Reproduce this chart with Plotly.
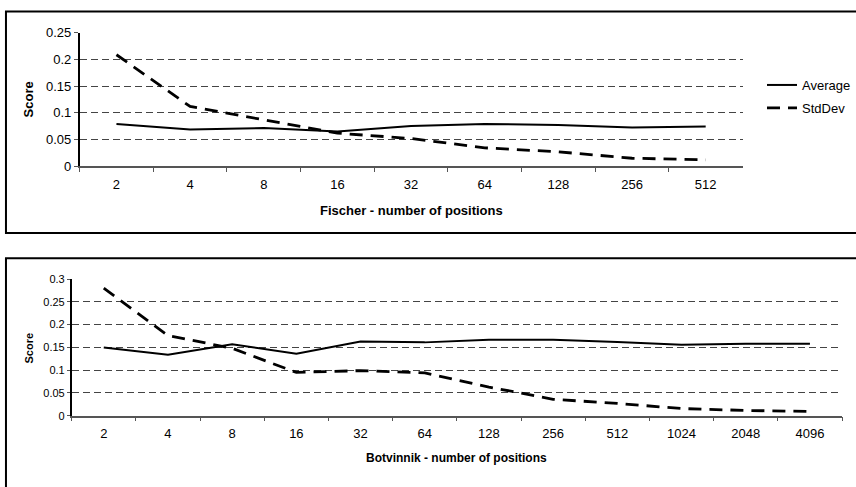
import plotly.graph_objects as go

# ---- data ----
fischer_positions = ["2", "4", "8", "16", "32", "64", "128", "256", "512"]
fischer_average = [0.079, 0.069, 0.0715, 0.065, 0.0755, 0.079, 0.0775, 0.0725, 0.0745]
fischer_stddev = [0.209, 0.112, 0.087, 0.062, 0.052, 0.0345, 0.027, 0.015, 0.012]

botvinnik_positions = ["2", "4", "8", "16", "32", "64", "128", "256", "512", "1024", "2048", "4096"]
botvinnik_average = [0.150, 0.134, 0.157, 0.136, 0.163, 0.161, 0.167, 0.167, 0.162, 0.156, 0.158, 0.158]
botvinnik_stddev = [0.280, 0.176, 0.148, 0.095, 0.099, 0.094, 0.063, 0.036, 0.027, 0.0157, 0.0115, 0.0094]

fischer_yticks = [0, 0.05, 0.1, 0.15, 0.2, 0.25]
fischer_ytick_labels = ["0", "0.05", "0.1", "0.15", "0.2", "0.25"]
botvinnik_yticks = [0, 0.05, 0.1, 0.15, 0.2, 0.25, 0.3]
botvinnik_ytick_labels = ["0", "0.05", "0.1", "0.15", "0.2", "0.25", "0.3"]

W, H = 856, 487
FONT = "Liberation Sans, Arial, sans-serif"


def px(x):
    return x / W


def py(y):
    return 1 - y / H


avg_line = dict(color="black", width=2)
std_line = dict(color="black", width=2.8, dash="13px,8px")

fig = go.Figure()

fig.add_trace(go.Scatter(x=fischer_positions, y=fischer_average, mode="lines", name="Average",
                         line=avg_line, xaxis="x", yaxis="y", legendgroup="a"))
fig.add_trace(go.Scatter(x=fischer_positions, y=fischer_stddev, mode="lines", name="StdDev",
                         line=std_line, xaxis="x", yaxis="y", legendgroup="b"))
fig.add_trace(go.Scatter(x=botvinnik_positions, y=botvinnik_average, mode="lines", name="Average",
                         line=avg_line, xaxis="x2", yaxis="y2", showlegend=False))
fig.add_trace(go.Scatter(x=botvinnik_positions, y=botvinnik_stddev, mode="lines", name="StdDev",
                         line=std_line, xaxis="x2", yaxis="y2", showlegend=False))

grid = dict(showgrid=True, gridcolor="#444444", gridwidth=1, griddash="7px,4px")

fig.update_layout(
    width=W, height=H,
    margin=dict(l=0, r=0, t=0, b=0),
    paper_bgcolor="white", plot_bgcolor="white",
    font=dict(family=FONT, size=13, color="black"),
    xaxis=dict(domain=[px(80), px(746)], anchor="y", type="category",
               range=[-0.5, len(fischer_positions) - 0.5], tickson="boundaries",
               ticks="outside", ticklen=4, tickcolor="#555555", showline=True,
               linecolor="#555555", linewidth=1.5, showgrid=False, zeroline=False,
               tickfont=dict(size=13), ticklabelstandoff=5),
    yaxis=dict(domain=[py(164.3), py(26.7)], anchor="x", range=[0, 0.25],
               tickvals=fischer_yticks, ticktext=fischer_ytick_labels,
               ticks="outside", ticklen=4, tickcolor="#555555", showline=True,
               linecolor="black", linewidth=1.5, zeroline=False,
               tickfont=dict(size=13), **grid),
    xaxis2=dict(domain=[px(72), px(846)], anchor="y2", type="category",
                range=[-0.5, len(botvinnik_positions) - 0.5], tickson="boundaries",
                ticks="outside", ticklen=4, tickcolor="#555555", showline=True,
                linecolor="#555555", linewidth=1.5, showgrid=False, zeroline=False,
                tickfont=dict(size=13), ticklabelstandoff=5),
    yaxis2=dict(domain=[py(421.7), py(280.7)], anchor="x2", range=[0, 0.3],
                tickvals=botvinnik_yticks, ticktext=botvinnik_ytick_labels,
                ticks="outside", ticklen=3, tickcolor="#555555", showline=True,
                linecolor="black", linewidth=1.5, zeroline=False,
                tickfont=dict(size=11), ticklabelstandoff=0, **grid),
    legend=dict(x=px(766), y=py(65), xanchor="left", yanchor="top",
                bgcolor="rgba(0,0,0,0)", tracegroupgap=3,
                font=dict(size=13), itemwidth=30),
    showlegend=True,
)

fig.add_annotation(text="<b>Fischer - number of positions</b>", x=px(413), y=py(210),
                   xref="paper", yref="paper", showarrow=False, font=dict(size=13),
                   xanchor="center", yanchor="middle")
fig.add_annotation(text="<b>Score</b>", x=px(29), y=py(95.5), xref="paper", yref="paper",
                   showarrow=False, textangle=-90, font=dict(size=13),
                   xanchor="center", yanchor="middle")
fig.add_annotation(text="<b>Botvinnik - number of positions</b>", x=px(459), y=py(465),
                   xref="paper", yref="paper", showarrow=False, font=dict(size=12),
                   xanchor="center", yanchor="middle")
fig.add_annotation(text="<b>Score</b>", x=px(29), y=py(351.5), xref="paper", yref="paper",
                   showarrow=False, textangle=-90, font=dict(size=11),
                   xanchor="center", yanchor="middle")

# chart frames
fig.add_shape(type="rect", xref="paper", yref="paper", x0=px(6), x1=px(870), y0=py(233.3), y1=py(4.7),
              line=dict(color="black", width=2), fillcolor="rgba(0,0,0,0)", layer="below")
fig.add_shape(type="rect", xref="paper", yref="paper", x0=px(6), x1=px(870), y0=py(500), y1=py(259.3),
              line=dict(color="black", width=2), fillcolor="rgba(0,0,0,0)", layer="below")

fig.write_html("out.html", config={"displayModeBar": False},
               post_script="document.body.style.margin='0';document.body.style.overflow='hidden';")
